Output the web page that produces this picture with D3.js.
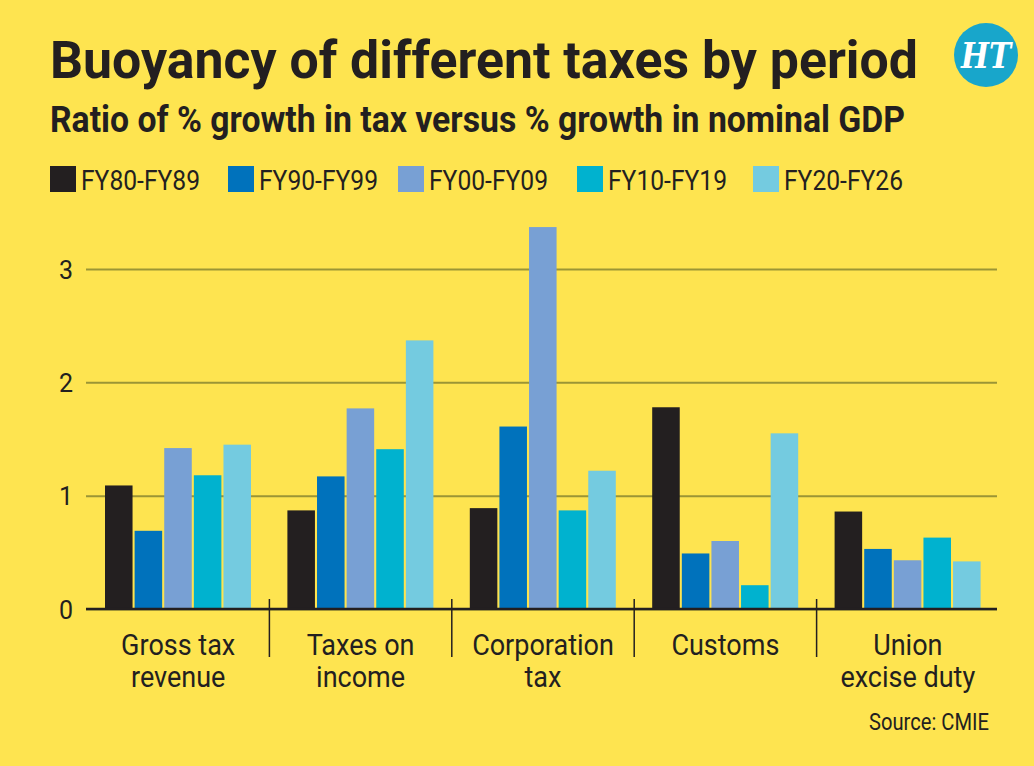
<!DOCTYPE html>
<html>
<head>
<meta charset="utf-8">
<script src="https://cdn.jsdelivr.net/npm/d3@7"></script>
<style>
  html, body { margin: 0; padding: 0; background: #fee450; }
  svg { display: block; }
  text { font-family: Roboto, "Liberation Sans", sans-serif; fill: #231f20; }
</style>
</head>
<body>
<script>
var categories = ['Gross tax\nrevenue', 'Taxes on\nincome', 'Corporation\ntax', 'Customs', 'Union\nexcise duty'];
var periods = ['FY80-FY89', 'FY90-FY99', 'FY00-FY09', 'FY10-FY19', 'FY20-FY26'];
var fy80 = [1.09, 0.87, 0.89, 1.78, 0.86];
var fy90 = [0.69, 1.17, 1.61, 0.49, 0.53];
var fy00 = [1.42, 1.77, 3.37, 0.60, 0.43];
var fy10 = [1.18, 1.41, 0.87, 0.21, 0.63];
var fy20 = [1.45, 2.37, 1.22, 1.55, 0.42];
var yTicks = [0, 1, 2, 3];
var colors = ['#231f20', '#0072bc', '#78a0d4', '#00b2cf', '#74cbe0'];

var seriesVals = [fy80, fy90, fy00, fy10, fy20];

var width = 1034, height = 766;
var left = 86, right = 997, base = 609, top3 = 269;

var svg = d3.select('body').append('svg').attr('width', width).attr('height', height);
svg.append('rect').attr('width', width).attr('height', height).attr('fill', '#fee450');

// squeeze text horizontally so it looks like the condensed face
function squeeze(sel, k) {
  sel.each(function() {
    var w = this.getComputedTextLength();
    d3.select(this).attr('textLength', w * k).attr('lengthAdjust', 'spacingAndGlyphs');
  });
}
function fit(sel, w) {
  sel.attr('textLength', w).attr('lengthAdjust', 'spacingAndGlyphs');
}

// titles
svg.append('text').attr('x', 50).attr('y', 78)
  .style('font-size', '51px').style('font-weight', 700)
  .text('Buoyancy of different taxes by period').call(fit, 868);
svg.append('text').attr('x', 50).attr('y', 132)
  .style('font-size', '36px').style('font-weight', 700)
  .text('Ratio of % growth in tax versus % growth in nominal GDP').call(fit, 855);

// HT logo
var logo = svg.append('g').attr('transform', 'translate(986,55)');
logo.append('circle').attr('r', 32).attr('fill', '#18a6cb');
logo.append('text').attr('text-anchor', 'middle').attr('y', 13)
  .style('font-family', '"DejaVu Serif", serif').style('font-weight', 700).style('font-style', 'italic')
  .style('font-size', '36px').style('fill', '#fff').text('HT').call(fit, 50);

// legend
var legX = [50, 228, 398, 577, 753];
var leg = svg.selectAll('g.leg').data(periods).enter().append('g')
  .attr('class', 'leg')
  .attr('transform', function(d, i) { return 'translate(' + legX[i] + ',166)'; });
leg.append('rect').attr('width', 26).attr('height', 26).attr('fill', function(d, i) { return colors[i]; });
leg.append('text').attr('x', 31).attr('y', 24).style('font-size', '28px')
  .text(function(d) { return d; }).call(squeeze, 0.88);

// scales
var y = d3.scaleLinear().domain([0, 3]).range([base, top3]);
var x0 = d3.scaleBand().domain(categories).range([87, 999]).padding(0);
var x1 = d3.scaleBand().domain(periods).range([18, 164]).paddingInner(0.07);

// gridlines + y labels
var yAxis = d3.axisLeft(y).tickValues(yTicks).tickSize(-(right - left)).tickFormat(d3.format('d'));
var ga = svg.append('g').attr('class', 'axis y').attr('transform', 'translate(' + left + ',0)').call(yAxis);
ga.select('.domain').remove();
ga.selectAll('.tick line').attr('stroke', '#9b9535').attr('stroke-width', 2);
ga.selectAll('.tick text').attr('x', -13).attr('dy', '0.36em')
  .style('font-size', '25px').style('font-family', 'Roboto, sans-serif').attr('fill', '#231f20');

// bars
var grp = svg.selectAll('g.grp').data(categories).enter().append('g')
  .attr('class', 'grp')
  .attr('transform', function(d) { return 'translate(' + x0(d) + ',0)'; });
grp.selectAll('rect')
  .data(function(d, ci) { return periods.map(function(p, si) { return {p: p, si: si, v: seriesVals[si][ci]}; }); })
  .enter().append('rect')
  .attr('x', function(d) { return x1(d.p); })
  .attr('width', x1.bandwidth())
  .attr('y', function(d) { return y(d.v); })
  .attr('height', function(d) { return base - y(d.v); })
  .attr('fill', function(d) { return colors[d.si]; });

// baseline
svg.append('line').attr('x1', left).attr('x2', right).attr('y1', base).attr('y2', base)
  .attr('stroke', '#231f20').attr('stroke-width', 2.5);

// dividers between groups
svg.selectAll('line.div').data(categories.slice(1)).enter().append('line')
  .attr('class', 'div')
  .attr('x1', function(d) { return x0(d); }).attr('x2', function(d) { return x0(d); })
  .attr('y1', base - 10).attr('y2', 657)
  .attr('stroke', '#231f20').attr('stroke-width', 1.5);

// category labels, one text per line
grp.selectAll('text.cat')
  .data(function(d) { return d.split('\n'); })
  .enter().append('text')
  .attr('class', 'cat')
  .attr('text-anchor', 'middle')
  .style('font-size', '30px')
  .attr('x', x0.bandwidth() / 2)
  .attr('y', function(d, i) { return 655 + i * 32; })
  .text(function(d) { return d; })
  .call(squeeze, 0.9);

// source
svg.append('text').attr('x', 989).attr('y', 730).attr('text-anchor', 'end')
  .style('font-size', '24px').text('Source: CMIE').call(squeeze, 0.84);
</script>
</body>
</html>
